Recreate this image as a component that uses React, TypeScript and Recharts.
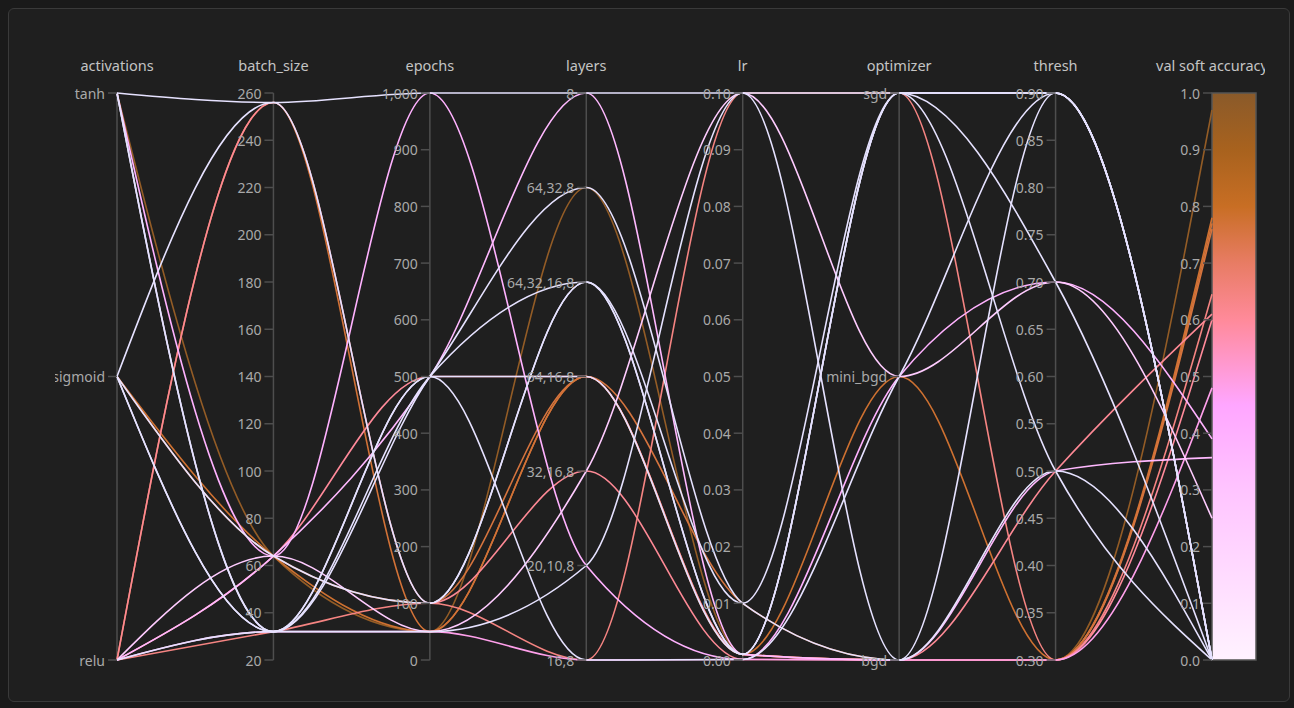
import { LineChart, Line, XAxis, YAxis, ReferenceLine, ReferenceDot, ReferenceArea } from 'recharts';

// axis order, left to right
const axisTitles = ['activations', 'batch_size', 'epochs', 'layers', 'lr', 'optimizer', 'thresh', 'val soft accuracy'];

const activationCats = ['relu', 'sigmoid', 'tanh'];
const layerCats = ['16,8', '20,10,8', '32,16,8', '64,16,8', '64,32,16,8', '64,32,8', '8'];
const optimizerCats = ['bgd', 'mini_bgd', 'sgd'];

const batchTicks = [20, 40, 60, 80, 100, 120, 140, 160, 180, 200, 220, 240, 260];
const epochTicks = [0, 100, 200, 300, 400, 500, 600, 700, 800, 900, 1000];
const lrTicks = [0, 0.01, 0.02, 0.03, 0.04, 0.05, 0.06, 0.07, 0.08, 0.09, 0.1];
const threshTicks = [0.3, 0.35, 0.4, 0.45, 0.5, 0.55, 0.6, 0.65, 0.7, 0.75, 0.8, 0.85, 0.9];
const accTicks = [0, 0.1, 0.2, 0.3, 0.4, 0.5, 0.6, 0.7, 0.8, 0.9, 1];

// one entry per run
const activations = ['tanh', 'sigmoid', 'relu', 'sigmoid', 'relu', 'relu', 'relu', 'tanh', 'relu', 'relu', 'relu', 'tanh', 'sigmoid', 'tanh', 'tanh', 'sigmoid', 'sigmoid', 'relu', 'sigmoid'];
const batchSize = [64, 64, 256, 64, 32, 256, 64, 64, 64, 64, 32, 256, 256, 32, 32, 32, 64, 32, 32];
const epochs = [50, 50, 50, 100, 100, 100, 500, 1000, 50, 500, 50, 1000, 100, 500, 500, 500, 100, 50, 500];
const layers = ['64,32,8', '64,16,8', '64,16,8', '64,16,8', '16,8', '32,16,8', '64,16,8', '20,10,8', '32,16,8', '8', '16,8', '8', '64,32,16,8', '64,32,8', '64,32,16,8', '16,8', '64,32,16,8', '20,10,8', '64,16,8'];
const lr = [0.001, 0.001, 0.001, 0.01, 0.1, 0.0001, 0.001, 0.0001, 0.1, 0.001, 0.0001, 0.1, 0.001, 0.01, 0.001, 0.0001, 0.01, 0.1, 0.001];
const optimizer = ['bgd', 'mini_bgd', 'bgd', 'bgd', 'sgd', 'bgd', 'bgd', 'mini_bgd', 'mini_bgd', 'bgd', 'bgd', 'sgd', 'sgd', 'bgd', 'sgd', 'mini_bgd', 'sgd', 'bgd', 'sgd'];
const thresh = [0.3, 0.3, 0.3, 0.3, 0.3, 0.5, 0.3, 0.7, 0.7, 0.5, 0.3, 0.9, 0.9, 0.9, 0.5, 0.9, 0.7, 0.5, 0.9];
const valSoftAccuracy = [0.97, 0.78, 0.77, 0.76, 0.645, 0.61, 0.6, 0.39, 0.25, 0.357, 0.48, 0, 0, 0, 0, 0, 0, 0, 0];

const columns: any[][] = [activations, batchSize, epochs, layers, lr, optimizer, thresh, valSoftAccuracy];

const norms: ((v: any) => number)[] = [
  (v) => activationCats.indexOf(v) / 2,
  (v) => (v - 20) / 240,
  (v) => v / 1000,
  (v) => layerCats.indexOf(v) / 6,
  (v) => v / 0.1,
  (v) => optimizerCats.indexOf(v) / 2,
  (v) => (v - 0.3) / 0.6,
  (v) => v,
];

const tickSets: { value: any; label: string }[][] = [
  activationCats.map((c) => ({ value: c, label: c })),
  batchTicks.map((v) => ({ value: v, label: String(v) })),
  epochTicks.map((v) => ({ value: v, label: v.toLocaleString('en-US') })),
  layerCats.map((c) => ({ value: c, label: c })),
  lrTicks.map((v) => ({ value: v, label: v.toFixed(2) })),
  optimizerCats.map((c) => ({ value: c, label: c })),
  threshTicks.map((v) => ({ value: v, label: v.toFixed(2) })),
  accTicks.map((v) => ({ value: v, label: v.toFixed(1) })),
];

const colorStops: [number, string][] = [
  [0, '#fff2ff'],
  [0.3, '#ffc4ff'],
  [0.45, '#ffa6ff'],
  [0.6, '#ff8a9a'],
  [0.7, '#e87c64'],
  [0.8, '#c86e24'],
  [0.9, '#a8621e'],
  [1, '#8a5a2a'],
];

function hexToRgb(h: string) {
  return [1, 3, 5].map((i) => parseInt(h.slice(i, i + 2), 16));
}

function accColor(v: number) {
  if (v === 0) return '#e6e2ff';
  for (let i = 1; i < colorStops.length; i++) {
    const [p1, c1] = colorStops[i];
    const [p0, c0] = colorStops[i - 1];
    if (v <= p1) {
      const t = (v - p0) / (p1 - p0);
      const a = hexToRgb(c0);
      const b = hexToRgb(c1);
      const m = a.map((x, k) => Math.round(x + (b[k] - x) * t));
      return `rgb(${m[0]},${m[1]},${m[2]})`;
    }
  }
  return colorStops[colorStops.length - 1][1];
}

const runKeys = valSoftAccuracy.map((_, i) => `run${i}`);

const data = columns.map((col, axis) => {
  const row: any = { axis };
  col.forEach((v, i) => {
    row[runKeys[i]] = norms[axis](v);
  });
  return row;
});

// draw colored runs first, white ones on top
const drawOrder = runKeys.map((_, i) => i).sort((a, b) => valSoftAccuracy[b] - valSoftAccuracy[a]);

const FONT = '"Noto Sans", sans-serif';
const TICK_COLOR = '#a9a9a9';
const AXIS_COLOR = '#4e4e4e';

function tickShape(label: string) {
  return (p: any) => (
    <g>
      <line x1={p.cx - 9} y1={p.cy} x2={p.cx} y2={p.cy} stroke={AXIS_COLOR} strokeWidth={1.5} />
      <text
        x={p.cx - 12}
        y={p.cy}
        textAnchor="end"
        dominantBaseline="central"
        fill={TICK_COLOR}
        fontSize={14}
        fontFamily={FONT}
      >
        {label}
      </text>
    </g>
  );
}

function titleShape(label: string) {
  return (p: any) => (
    <text
      x={p.cx}
      y={p.cy - 28}
      textAnchor="middle"
      dominantBaseline="central"
      fill="#c4c4c4"
      fontSize={14.5}
      fontFamily={FONT}
    >
      {label}
    </text>
  );
}

export default function App() {
  return (
    <div style={{ position: 'fixed', inset: 0, background: '#1a1a1a' }}>
      <div
        style={{
          position: 'absolute',
          left: 8,
          top: 8,
          width: 1282,
          height: 694,
          boxSizing: 'border-box',
          border: '1px solid #3a3a3a',
          borderRadius: 6,
          background: '#1f1f1f',
        }}
      >
        <div style={{ position: 'absolute', left: 46, top: 11 }}>
          <LineChart width={1210} height={668} data={data} margin={{ top: 73, right: 53, bottom: 28, left: 62 }}>
            <defs>
              <linearGradient id="accGrad" x1="0" y1="1" x2="0" y2="0">
                {colorStops.map(([p, c]) => (
                  <stop key={p} offset={`${p * 100}%`} stopColor={c} />
                ))}
              </linearGradient>
            </defs>
            <XAxis dataKey="axis" type="number" domain={[0, 7]} hide />
            <YAxis type="number" domain={[0, 1]} hide />
            {axisTitles.slice(0, 7).map((t, i) => (
              <ReferenceLine key={t} x={i} stroke={AXIS_COLOR} strokeWidth={1.5} />
            ))}
            {drawOrder.map((i) => (
              <Line
                key={runKeys[i]}
                dataKey={runKeys[i]}
                type="monotone"
                stroke={accColor(valSoftAccuracy[i])}
                strokeWidth={1.6}
                dot={false}
                activeDot={false}
                isAnimationActive={false}
              />
            ))}
            <ReferenceArea
              x1={7}
              x2={7}
              y1={0}
              y2={1}
              ifOverflow="visible"
              shape={(p: any) => (
                <rect x={p.x} y={p.y} width={44} height={p.height} fill="url(#accGrad)" stroke="#555" strokeWidth={1.5} />
              )}
            />
            {tickSets.map((ticks, axis) =>
              ticks.map((t) => (
                <ReferenceDot
                  key={`${axis}-${t.label}`}
                  x={axis}
                  y={norms[axis](t.value)}
                  r={0}
                  ifOverflow="visible"
                  shape={tickShape(t.label)}
                />
              ))
            )}
            {axisTitles.map((t, i) => (
              <ReferenceDot key={t} x={i} y={1} r={0} ifOverflow="visible" shape={titleShape(t)} />
            ))}
          </LineChart>
        </div>
      </div>
    </div>
  );
}
